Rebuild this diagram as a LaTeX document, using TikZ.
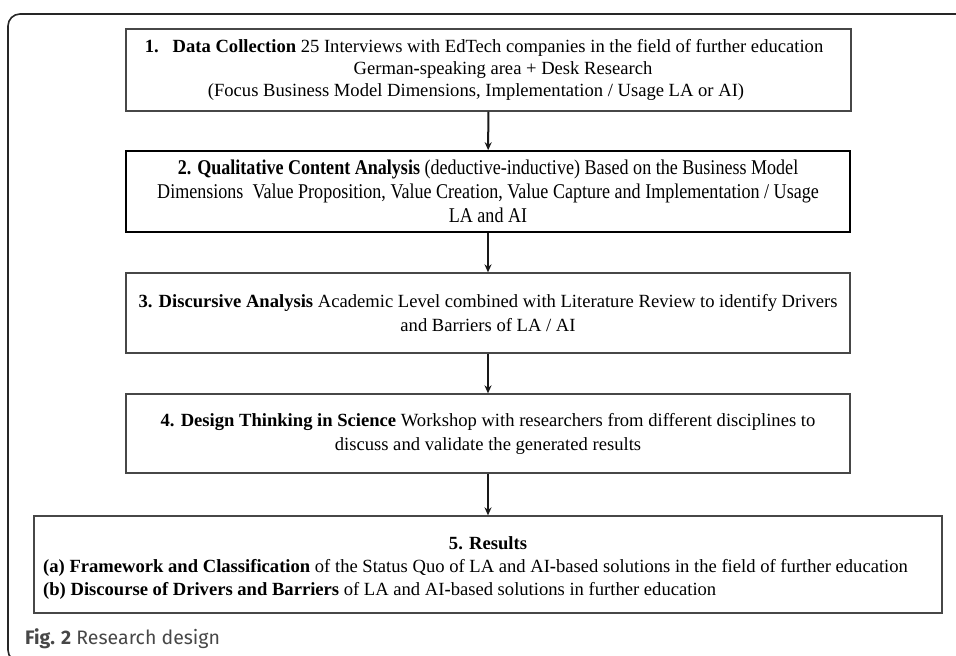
\documentclass[tikz,border=0pt]{standalone}
\usepackage{fontspec}
\setmainfont{Liberation Serif}
\newfontfamily\condserif[FakeStretch=0.86]{Liberation Serif}
\newfontfamily\capfont{Fira Sans}
\usetikzlibrary{arrows.meta}
\begin{document}
\begin{tikzpicture}[x=1pt,y=-1pt,
  stepbox/.style={draw=black!72,line width=1.3pt,inner sep=0pt,align=center,
    minimum width=724pt,font=\fontsize{18.6}{22}\selectfont},
  txt/.style={inner sep=0pt,font=\fontsize{18.6}{23}\selectfont},
  arr/.style={line width=2pt,draw=black!90,-{Stealth[length=8pt,width=7pt]}},
  frame/.style={line width=1.6pt,draw=black!85,rounded corners=12pt}]
\useasboundingbox (0,0) rectangle (956,656);
\begin{scope}
\clip (0,0) rectangle (956,656);
\draw[frame] (980,14) -- (8,14) -- (8,662) -- (200,662);
\end{scope}
\node[stepbox,minimum width=725pt,minimum height=82pt] (b1) at (488.5,70)
  {\hspace*{-9pt}\textbf{1.}\hspace{14pt}\textbf{Data Collection} 25 Interviews with EdTech companies in the field of further education\\
   \hspace*{29pt}German\textbf{-}speaking area + Desk Research\\
   \hspace*{-25pt}(Focus Business Model Dimensions, Implementation / Usage LA or AI)};
\node[stepbox,draw=black,line width=1.6pt,minimum height=81pt,font=\condserif\fontsize{21}{24}\selectfont] (b2) at (488,191.5)
  {\textbf{2. Qualitative Content Analysis} (deductive-inductive) Based on the Business Model\\
   Dimensions\ \ Value Proposition, Value Creation, Value Capture and Implementation / Usage\\
   LA and AI};
\node[stepbox,minimum height=80pt,font=\fontsize{18.6}{24}\selectfont] (b3) at (488,313)
  {\textbf{3. Discursive Analysis} Academic Level combined with Literature Review to identify Drivers\\
   and Barriers of LA / AI};
\node[stepbox,minimum height=79pt,font=\fontsize{18.6}{24}\selectfont] (b4) at (488,433.5)
  {\textbf{4. Design Thinking in Science} Workshop with researchers from different disciplines to\\
   discuss and validate the generated results};
\node[stepbox,minimum width=908pt,minimum height=97pt] (b5) at (488,564.5) {};
\node[txt,anchor=base] (r5) at (488,549) {\textbf{5. Results}};
\node[txt,anchor=base west] (r5a) at (43,572)
  {\textbf{(a) Framework and Classification} of the Status Quo of LA and AI\textbf{-}based solutions in the field of further education};
\node[txt,anchor=base west] (r5b) at (43,595)
  {\textbf{(b) Discourse of Drivers and Barriers} of LA and AI\textbf{-}based solutions in further education};
\node[inner sep=0pt,anchor=base west,text=black!72,font=\capfont\fontsize{19.5}{22}\selectfont] (cap) at (25,644)
  {\textbf{Fig. 2} Research design};
\draw[arr] (b1) -- (b2);
\draw[arr] (b2) -- (b3);
\draw[arr] (b3) -- (b4);
\draw[arr] (b4) -- (b5);
\end{tikzpicture}
\end{document}
